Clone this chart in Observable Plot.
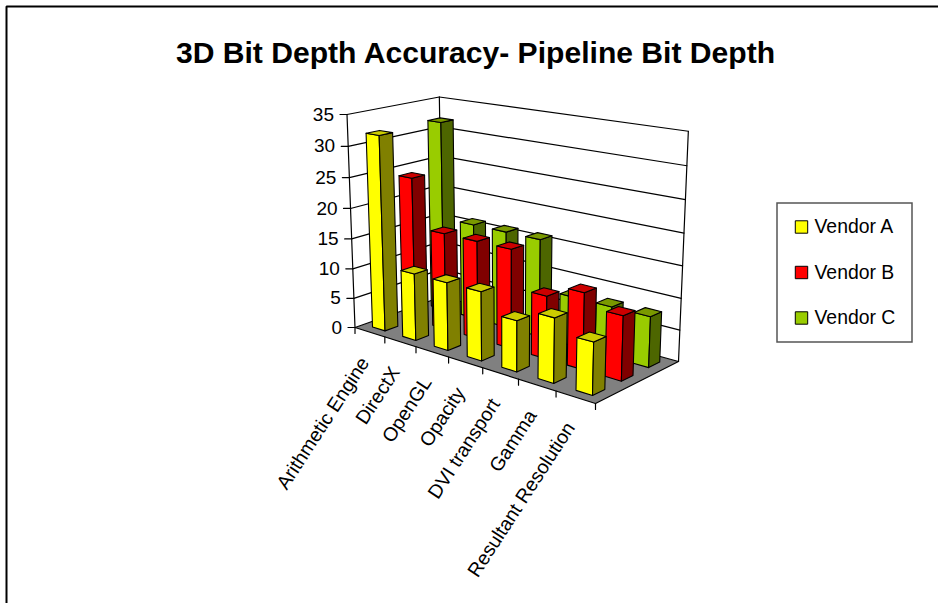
<!DOCTYPE html>
<html>
<head>
<meta charset="utf-8">
<style>html,body{margin:0;padding:0;background:#fff}svg{display:block}</style>
<script src="https://cdn.jsdelivr.net/npm/d3@7"></script>
<script src="https://cdn.jsdelivr.net/npm/@observablehq/plot@0.6"></script>
</head>
<body>
<div id="chart"></div>
<script>
// Pipeline bit depth per feature and vendor
const categories = ["Arithmetic Engine", "DirectX", "OpenGL", "Opacity", "DVI transport", "Gamma", "Resultant Resolution"];
const vendorA = [32, 11, 11, 11, 8, 10, 8];
const vendorB = [24, 16, 16, 16, 10, 12, 10];
const vendorC = [32, 16, 16, 16, 8, 8, 8];
const vendorNames = ["Vendor A", "Vendor B", "Vendor C"];
const yTicks = [0, 5, 10, 15, 20, 25, 30, 35];
const title = "3D Bit Depth Accuracy- Pipeline Bit Depth";

// Face shades per vendor: front, side, top
const shades = [
  ["#ffff00", "#808000", "#cccc00"],
  ["#ff0000", "#800000", "#cc0000"],
  ["#99cc00", "#4d6600", "#7a9900"]
];
const yMax = 35;
const barFraction = 0.42;

// Perspective camera: floor quad plus the height axis
const floor = {fl: [354.5, 327], fr: [595, 403], br: [678, 361], bl: [442, 296]};
const topLeft = [346.5, 114];
const heightPersp = -0.05;

function camera() {
  const {fl, fr, br, bl} = floor;
  const dx1 = fr[0] - br[0], dx2 = bl[0] - br[0], sx = fl[0] - fr[0] + br[0] - bl[0];
  const dy1 = fr[1] - br[1], dy2 = bl[1] - br[1], sy = fl[1] - fr[1] + br[1] - bl[1];
  const den = dx1 * dy2 - dx2 * dy1;
  const g = (sx * dy2 - dx2 * sy) / den, h = (dx1 * sy - sx * dy1) / den;
  const i = heightPersp;
  const ax = fr[0] - fl[0] + g * fr[0], bx = bl[0] - fl[0] + h * bl[0];
  const ay = fr[1] - fl[1] + g * fr[1], by = bl[1] - fl[1] + h * bl[1];
  const cx = topLeft[0] * (1 + i) - fl[0], cy = topLeft[1] * (1 + i) - fl[1];
  return (u, v, w) => {
    const d = g * u + h * v + i * w + 1;
    return [(ax * u + bx * v + cx * w + fl[0]) / d, (ay * u + by * v + cy * w + fl[1]) / d];
  };
}
const cam = camera();
const project = (u, v, value) => cam(u, v, value / yMax);

// Polygons are painted back to front
const polys = [];
let polyId = 0;
function addPoly(corners, fill, stroke = "#000") {
  const id = polyId++;
  for (const [u, v, value] of corners) {
    const [x, y] = project(u, v, value);
    polys.push({id, x, y, fill, stroke});
  }
}
addPoly([[0, 0, 0], [0, 1, 0], [1, 1, 0], [1, 0, 0]], "#808080");
addPoly([[0, 0, 0], [0, 1, 0], [0, 1, yMax], [0, 0, yMax]], "#ffffff");
addPoly([[0, 1, 0], [1, 1, 0], [1, 1, yMax], [0, 1, yMax]], "#ffffff");

const series = [vendorA, vendorB, vendorC];
const nCat = categories.length, nSer = series.length;
for (let s = nSer - 1; s >= 0; --s) {
  for (let k = 0; k < nCat; ++k) {
    const value = series[s][k];
    const pad = (1 - barFraction) / 2;
    const u0 = (k + pad) / nCat, u1 = (k + 1 - pad) / nCat;
    const v0 = (s + pad) / nSer, v1 = (s + 1 - pad) / nSer;
    const [front, side, top] = shades[s];
    addPoly([[u0, v0, 0], [u1, v0, 0], [u1, v0, value], [u0, v0, value]], front);
    addPoly([[u1, v0, 0], [u1, v1, 0], [u1, v1, value], [u1, v0, value]], side);
    addPoly([[u0, v0, value], [u1, v0, value], [u1, v1, value], [u0, v1, value]], top);
  }
}

// Gridlines run along both walls; axis ticks sit outside the left and front edges
const segments = [];
let segId = 0;
function addSeg(a, b) {
  const id = segId++;
  segments.push({id, x: a[0], y: a[1]}, {id, x: b[0], y: b[1]});
}
for (const t of yTicks) {
  const a = project(0, 0, t), b = project(0, 1, t), c = project(1, 1, t);
  addSeg(a, b);
  addSeg(b, c);
  addSeg([a[0] - 7, a[1]], a);
}
for (let k = 0; k <= nCat; ++k) {
  const p = project(k / nCat, 0, 0);
  addSeg(p, [p[0], p[1] + 6]);
}
addSeg(project(0, 0, 0), project(0, 0, yMax));
addSeg(project(0, 1, 0), project(0, 1, yMax));
addSeg(project(1, 1, 0), project(1, 1, yMax));
addSeg(project(0, 0, 0), project(1, 0, 0));
addSeg(project(1, 0, 0), project(1, 1, 0));

const yLabels = yTicks.map(t => {
  const [x, y] = project(0, 0, t);
  return {text: String(t), x: x - 13, y};
});
const xLabels = categories.map((text, k) => {
  const [x, y] = project((k + 0.5) / nCat, 0, 0);
  return {text, x: x - 5, y: y + 27};
});

// Legend box in the right margin
const legendBox = {x1: 777, x2: 912, y1: 203, y2: 342};
const legendRows = vendorNames.map((name, s) => ({
  name, fill: shades[s][0], y: 226.5 + s * 45.5
}));

const frameLines = [
  {id: 0, x: 6, y: 603}, {id: 0, x: 6, y: 6}, {id: 0, x: 938, y: 6}
];

const font = "Liberation Sans, Arial, sans-serif";
const plot = Plot.plot({
  width: 938, height: 603,
  margin: 0,
  x: {domain: [0, 938], range: [0, 938], axis: null},
  y: {domain: [0, 603], range: [0, 603], axis: null},
  color: {type: "identity"},
  style: {background: "#fff", fontFamily: font},
  marks: [
    Plot.line(frameLines, {x: "x", y: "y", z: "id", stroke: "#000", strokeWidth: 2, strokeLinejoin: "miter"}),
    Plot.text([title], {x: [475], y: [53], text: d => d, fontSize: 30.1, fontWeight: "bold", fill: "#000"}),
    Plot.line(polys.filter(d => d.id < 3), {x: "x", y: "y", z: "id", fill: "fill", stroke: "none", curve: "linear-closed"}),
    Plot.line(segments, {x: "x", y: "y", z: "id", stroke: "#000", strokeWidth: 1.2}),
    Plot.line(polys.filter(d => d.id >= 3), {x: "x", y: "y", z: "id", fill: "fill", stroke: "stroke", strokeWidth: 1.1, curve: "linear-closed"}),
    Plot.text(yLabels, {x: "x", y: "y", text: "text", textAnchor: "end", fontSize: 19, fill: "#000"}),
    Plot.text(xLabels, {x: "x", y: "y", text: "text", textAnchor: "end", lineAnchor: "middle", rotate: -57, fontSize: 19.5, fill: "#000"}),
    Plot.rect([legendBox], {x1: "x1", x2: "x2", y1: "y1", y2: "y2", fill: "#fff", stroke: "#555", strokeWidth: 1.5}),
    Plot.dot(legendRows, {x: 801, y: "y", symbol: "square", r: 7, fill: "fill", stroke: "#000", strokeWidth: 1}),
    Plot.text(legendRows, {x: 814, y: "y", text: "name", textAnchor: "start", fontSize: 19.4, fill: "#000"})
  ]
});
document.getElementById("chart").appendChild(plot);
</script>
</body>
</html>
